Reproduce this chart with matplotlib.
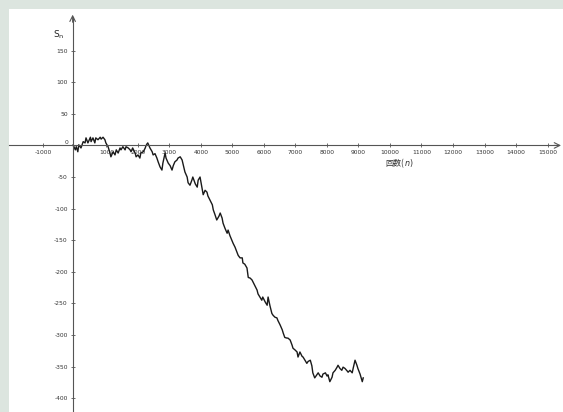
import matplotlib.pyplot as plt
import numpy as np

# random walk S_n (n against the printed tick labels)
n_vals = [-70, -60, 10, 40, 90, 120, 190, 260, 320, 350, 410, 490, 510, 570, 630, 660, 730, 800, 830, 890,
          950, 980, 1050, 1110, 1140, 1210, 1270, 1310, 1370, 1430, 1460, 1520, 1590, 1620, 1690, 1750, 1780, 1830, 1910, 1940,
          2000, 2060, 2090, 2170, 2230, 2250, 2280, 2310, 2380, 2450, 2480, 2540, 2600, 2640, 2700, 2760, 2790, 2860, 2890, 2960,
          3020, 3080, 3120, 3170, 3240, 3270, 3340, 3400, 3490, 3560, 3590, 3650, 3710, 3740, 3820, 3880, 3910, 3970,
          4020, 4070, 4130, 4190, 4220, 4280, 4360, 4390, 4440, 4500, 4570, 4610, 4670, 4700, 4760, 4830, 4860, 4920, 4980,
          5020, 5080, 5140, 5180, 5240, 5310, 5330, 5390, 5460, 5500, 5560, 5620, 5650, 5720, 5780, 5810, 5870, 5930, 5960,
          6040, 6100, 6130, 6190, 6250, 6290, 6350, 6410, 6440, 6510, 6580, 6610, 6660, 6730, 6760, 6830, 6890, 6920, 6990, 7050,
          7080, 7140, 7210, 7240, 7300, 7360, 7400, 7470, 7520, 7550, 7610, 7690, 7720, 7780, 7840, 7870, 7950, 8000, 8030,
          8090, 8160, 8190, 8260, 8320, 8350, 8410, 8470, 8510, 8570, 8640, 8670, 8730, 8800, 8830, 8890, 8950, 8980, 9050,
          9120, 9150]
s_vals = [0, 1, -7, -2, -10, 1, -4, 6, 4, 12, 4, 13, 6, 12, 4, 12, 9, 13, 10, 13,
          9, 4, -2, -12, -18, -10, -15, -7, -12, -4, -7, -2, -7, -2, -4, -7, -10, -4, -12, -18,
          -15, -20, -12, -10, -4, -1, 2, 4, -4, -10, -15, -13, -20, -26, -34, -39, -28, -12, -20, -28,
          -32, -39, -32, -26, -23, -20, -18, -23, -42, -50, -59, -63, -55, -50, -61, -66, -55, -50,
          -64, -78, -71, -74, -80, -86, -94, -102, -109, -118, -112, -107, -115, -123, -131, -139, -134, -143, -150,
          -155, -161, -169, -174, -178, -178, -186, -188, -194, -209, -210, -213, -216, -223, -229, -235, -240, -245, -240,
          -248, -253, -240, -254, -266, -269, -272, -273, -277, -284, -292, -297, -304, -305, -305, -308, -316, -321, -324, -327,
          -335, -327, -334, -335, -340, -345, -342, -340, -349, -360, -368, -362, -360, -365, -367, -362, -360, -365, -363,
          -374, -367, -360, -356, -351, -348, -353, -356, -351, -353, -357, -359, -356, -360, -353, -340, -348, -353, -362,
          -374, -368]

x_ticks = [-1000, 1000, 2000, 3000, 4000, 5000, 6000, 7000, 8000, 9000, 10000,
           11000, 12000, 13000, 14000, 15000]
y_ticks = [-400, -350, -300, -250, -200, -150, -100, -50, 50, 100, 150]

fig = plt.figure(figsize=(5.63, 4.12), dpi=100, facecolor='#dce5df')
ax = fig.add_axes([9/563, 0, 554/563, 403/412])
ax.set_facecolor('white')

ax.plot(n_vals, s_vals, color='#1a1a1a', lw=1.0)

ax.set_xlim(-2095, 15492)
ax.set_ylim(-422, 216)

# geogebra-like axes: y axis crosses just left of n = 0
for s in ['top', 'right']:
  ax.spines[s].set_visible(False)
ax.spines['left'].set_position(('data', -75))
ax.spines['bottom'].set_position(('data', 0))
ax.spines['left'].set_bounds(-422, 204)
ax.spines['bottom'].set_bounds(-2095, 15330)
for s in ['left', 'bottom']:
  ax.spines[s].set_color('#555555')
  ax.spines[s].set_linewidth(0.8)

ax.annotate('', xy=(15430, 0), xytext=(15200, 0),
            arrowprops=dict(arrowstyle='->', lw=0.8, color='#555555', shrinkA=0, shrinkB=0))
ax.annotate('', xy=(-75, 207), xytext=(-75, 195),
            arrowprops=dict(arrowstyle='->', lw=0.8, color='#555555', shrinkA=0, shrinkB=0))

ax.set_xticks(x_ticks)
ax.set_yticks(y_ticks)
ax.set_xticklabels([str(v) for v in x_ticks])
ax.set_yticklabels([str(v) for v in y_ticks])
ax.tick_params(direction='inout', length=3, width=0.6, colors='#555555',
               labelsize=4.3, labelcolor='#333333', pad=2)

ax.text(-210, 1, '0', ha='right', va='bottom', fontsize=4.3, color='#333333')
ax.text(-508, 175, r'$\mathregular{S_n}$', ha='center', va='center', fontsize=6.5, color='#222222')
ax.text(10444, -33, '回数(', ha='right', va='baseline', fontsize=5.8, color='#333333',
        family=['Noto Sans CJK JP', 'DejaVu Sans'])
ax.text(10444, -33, '$n$)', ha='left', va='baseline', fontsize=5.8, color='#333333')

plt.savefig('out.png', dpi=100, facecolor=fig.get_facecolor())
